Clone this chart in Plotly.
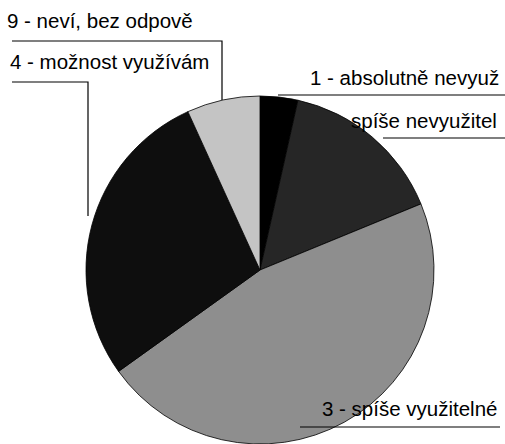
import plotly.graph_objects as go

W, H = 505, 444

# slice data (clockwise from 12 o'clock)
labels = ["1 - absolutně nevyuž", "spíše nevyužitel", "3 - spíše využitelné",
          "4 - možnost využívám", "9 - neví, bez odpově"]
shares = [3.5, 15.3, 46.3, 28.1, 6.8]
colors = ["#000000", "#262626", "#8e8e8e", "#0e0e0e", "#c4c4c4"]


def px(x):
    return x / W


def py(y):
    return 1 - y / H


fig = go.Figure(
    go.Pie(
        labels=labels,
        values=shares,
        sort=False,
        direction="clockwise",
        rotation=0,
        textinfo="none",
        hoverinfo="label+percent",
        marker=dict(colors=colors, line=dict(color="#000000", width=0.8)),
        domain=dict(x=[px(86), px(434)], y=[0, py(96)]),
        showlegend=False,
    )
)

# label text placement (pixel coords of the reference)
label_pos = [
    (502, 77, "right"),
    (500, 120, "right"),
    (500, 408, "right"),
    (8, 61, "left"),
    (5, 21, "left"),
]
for text, (x, y, anchor) in zip(labels, label_pos):
    fig.add_annotation(
        x=px(x), y=py(y), xref="paper", yref="paper",
        text=text, showarrow=False, xanchor=anchor, yanchor="middle",
        xshift=-1 if anchor == "right" else 0,
        font=dict(family="Liberation Sans, Arial", size=20.5, color="#000000"),
    )

# leader lines
leaders = [
    [(278, 95), (505, 95)],
    [(383, 138), (505, 138)],
    [(300, 427), (500, 427)],
    [(12, 82), (88, 82), (88, 216)],
    [(12, 41), (222, 41), (222, 100)],
]
for pts in leaders:
    path = "M " + " L ".join(f"{px(x)},{py(y)}" for x, y in pts)
    fig.add_shape(type="path", path=path, xref="paper", yref="paper",
                  line=dict(color="#000000", width=1.2))

fig.update_layout(
    width=W, height=H,
    margin=dict(l=0, r=0, t=0, b=0),
    paper_bgcolor="#ffffff",
    plot_bgcolor="#ffffff",
)

fig.write_html("out.html", config={"displayModeBar": False},
               post_script="document.body.style.margin='0';")
